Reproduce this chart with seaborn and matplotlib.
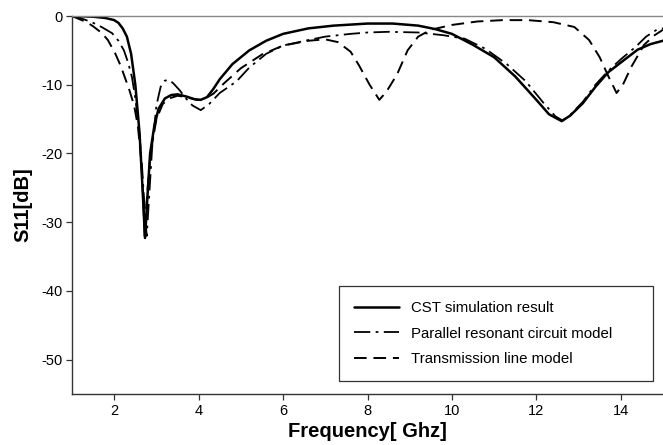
import matplotlib
matplotlib.use("Agg")
import matplotlib.pyplot as plt
import seaborn as sns
import pandas as pd

# ---- data ----
freq_cst = [1.0, 1.5, 1.8, 2.0, 2.1, 2.2, 2.3, 2.4, 2.5, 2.6, 2.67, 2.73, 2.78, 2.85, 2.95,
            3.05, 3.2, 3.35, 3.5, 3.7, 3.9, 4.05, 4.2, 4.35, 4.5, 4.8, 5.2, 5.6, 6.0, 6.6, 7.2,
            8.0, 8.6, 9.2, 9.6, 10.0, 10.5, 11.0, 11.5, 12.0, 12.3, 12.6, 12.8, 13.1,
            13.4, 13.7, 14.1, 14.4, 14.7, 15.0]
s11_cst = [0.0, -0.1, -0.3, -0.6, -1.0, -1.8, -3.0, -5.5, -10.0, -17.0, -25.0, -32.3, -27.0,
           -20.0, -16.0, -13.5, -12.0, -11.5, -11.4, -11.7, -12.1, -12.2, -11.8, -10.6, -9.2,
           -7.0, -5.0, -3.6, -2.6, -1.8, -1.4, -1.1, -1.1, -1.4, -1.9, -2.6, -4.2, -6.0, -8.8,
           -12.2, -14.3, -15.3, -14.5, -12.7, -10.3, -8.2, -6.3, -4.9, -4.1, -3.6]

freq_prc = [1.0, 1.2, 1.47, 1.7, 1.95, 2.1, 2.23, 2.33, 2.42, 2.5, 2.58, 2.66, 2.72, 2.77,
            2.82, 2.9, 3.0, 3.1, 3.2, 3.3, 3.4, 3.55, 3.7, 3.85, 4.05, 4.25, 4.5, 4.9, 5.2,
            5.6, 6.0, 6.6, 7.0, 7.6, 8.0, 8.5, 9.2, 9.8, 10.3, 10.8, 11.3, 11.75, 12.15,
            12.45, 12.62, 12.8, 13.1, 13.4, 13.7, 14.0, 14.35, 14.6, 14.85, 15.0]
s11_prc = [0.0, -0.3, -0.9, -1.6, -2.5, -3.6, -5.0, -6.8, -8.9, -12.0, -16.0, -22.0, -28.0,
           -32.0, -27.0, -19.0, -13.0, -10.3, -9.4, -9.3, -9.8, -10.8, -12.0, -13.0, -13.7,
           -12.8, -11.2, -9.5, -7.5, -5.5, -4.3, -3.5, -3.0, -2.6, -2.4, -2.3, -2.4, -2.8,
           -3.3, -4.8, -7.0, -9.5, -12.5, -14.6, -15.2, -14.4, -12.5, -10.0, -8.0, -6.3,
           -4.5, -3.0, -2.0, -1.8]

freq_tl = [1.0, 1.15, 1.35, 1.5, 1.71, 1.85, 2.02, 2.15, 2.25, 2.35, 2.47, 2.56, 2.64, 2.69,
           2.72, 2.78, 2.86, 3.0, 3.15, 3.3, 3.5, 3.7, 3.95, 4.1, 4.35, 4.6, 5.0, 5.5, 6.0,
           6.6, 7.0, 7.3, 7.6, 7.8, 8.05, 8.28, 8.45, 8.7, 8.95, 9.2, 9.5, 10.0, 10.6, 11.2,
           11.8, 12.4, 12.9, 13.25, 13.5, 13.7, 13.9, 14.05, 14.25, 14.55, 14.8, 15.0]
s11_tl = [0.0, -0.4, -0.9, -1.5, -2.5, -3.5, -5.4, -7.2, -8.9, -10.6, -13.0, -16.0, -21.0,
          -27.0, -32.0, -26.0, -20.0, -15.0, -12.8, -12.0, -11.6, -11.8, -12.2, -12.2, -11.3,
          -9.8, -7.6, -5.6, -4.3, -3.6, -3.4, -3.8, -5.2, -7.2, -10.0, -12.2, -11.0, -8.5,
          -5.0, -3.0, -2.0, -1.3, -0.8, -0.6, -0.6, -0.9, -1.6, -3.5, -6.0, -8.7, -11.2,
          -10.0, -7.4, -4.2, -2.8, -2.0]

labels = ["CST simulation result", "Parallel resonant circuit model", "Transmission line model"]
x_ticks = [2, 4, 6, 8, 10, 12, 14]
y_ticks = [0, -10, -20, -30, -40, -50]

sns.set_style("ticks")
plt.rcParams['font.family'] = ['Liberation Sans', 'DejaVu Sans']
plt.rcParams['axes.unicode_minus'] = False
plt.rcParams['text.color'] = 'black'
plt.rcParams['axes.labelcolor'] = 'black'

fig = plt.figure(figsize=(6.63, 4.45), dpi=100)
ax = fig.add_axes([72 / 663, 51 / 445, 591 / 663, 378 / 445])

sns.lineplot(x=freq_cst, y=s11_cst, ax=ax, color="black", lw=1.8, label=labels[0],
             sort=False, estimator=None)
l2 = sns.lineplot(x=freq_prc, y=s11_prc, ax=ax, color="black", lw=1.3, label=labels[1],
                  sort=False, estimator=None).lines[-1]
l2.set_dashes([9, 3, 1.5, 3])
l3 = sns.lineplot(x=freq_tl, y=s11_tl, ax=ax, color="black", lw=1.4, label=labels[2],
                  sort=False, estimator=None).lines[-1]
l3.set_dashes([6.5, 3.5])

ax.set_xlim(1, 15)
ax.set_ylim(-55, 0)
ax.set_xticks(x_ticks)
ax.set_yticks(y_ticks)
ax.tick_params(axis="both", direction="out", length=4, width=0.9, color="#333333",
               labelsize=10.5, labelcolor="black", pad=3)

for s in ["left", "bottom"]:
    ax.spines[s].set_color("#333333")
    ax.spines[s].set_linewidth(1.0)
ax.spines["top"].set_color("#888888")
ax.spines["top"].set_linewidth(1.0)
ax.spines["right"].set_visible(False)

ax.set_xlabel("Frequency[ Ghz]", fontsize=14.5, fontweight="bold", labelpad=3, color="black")
ax.set_ylabel("S11[dB]", fontsize=14.5, fontweight="bold", labelpad=6, color="black")

leg = ax.legend(loc="lower left", bbox_to_anchor=(0.452, 0.035, 0.531, 0.245),
                mode="expand", borderaxespad=0, frameon=True, fancybox=False,
                edgecolor="black", fontsize=10.8, handlelength=3.0, handletextpad=0.8,
                labelspacing=0.75, borderpad=1.0)
leg.get_frame().set_linewidth(0.9)
for t in leg.get_texts():
    t.set_color("black")

fig.savefig("out.png", dpi=100)
